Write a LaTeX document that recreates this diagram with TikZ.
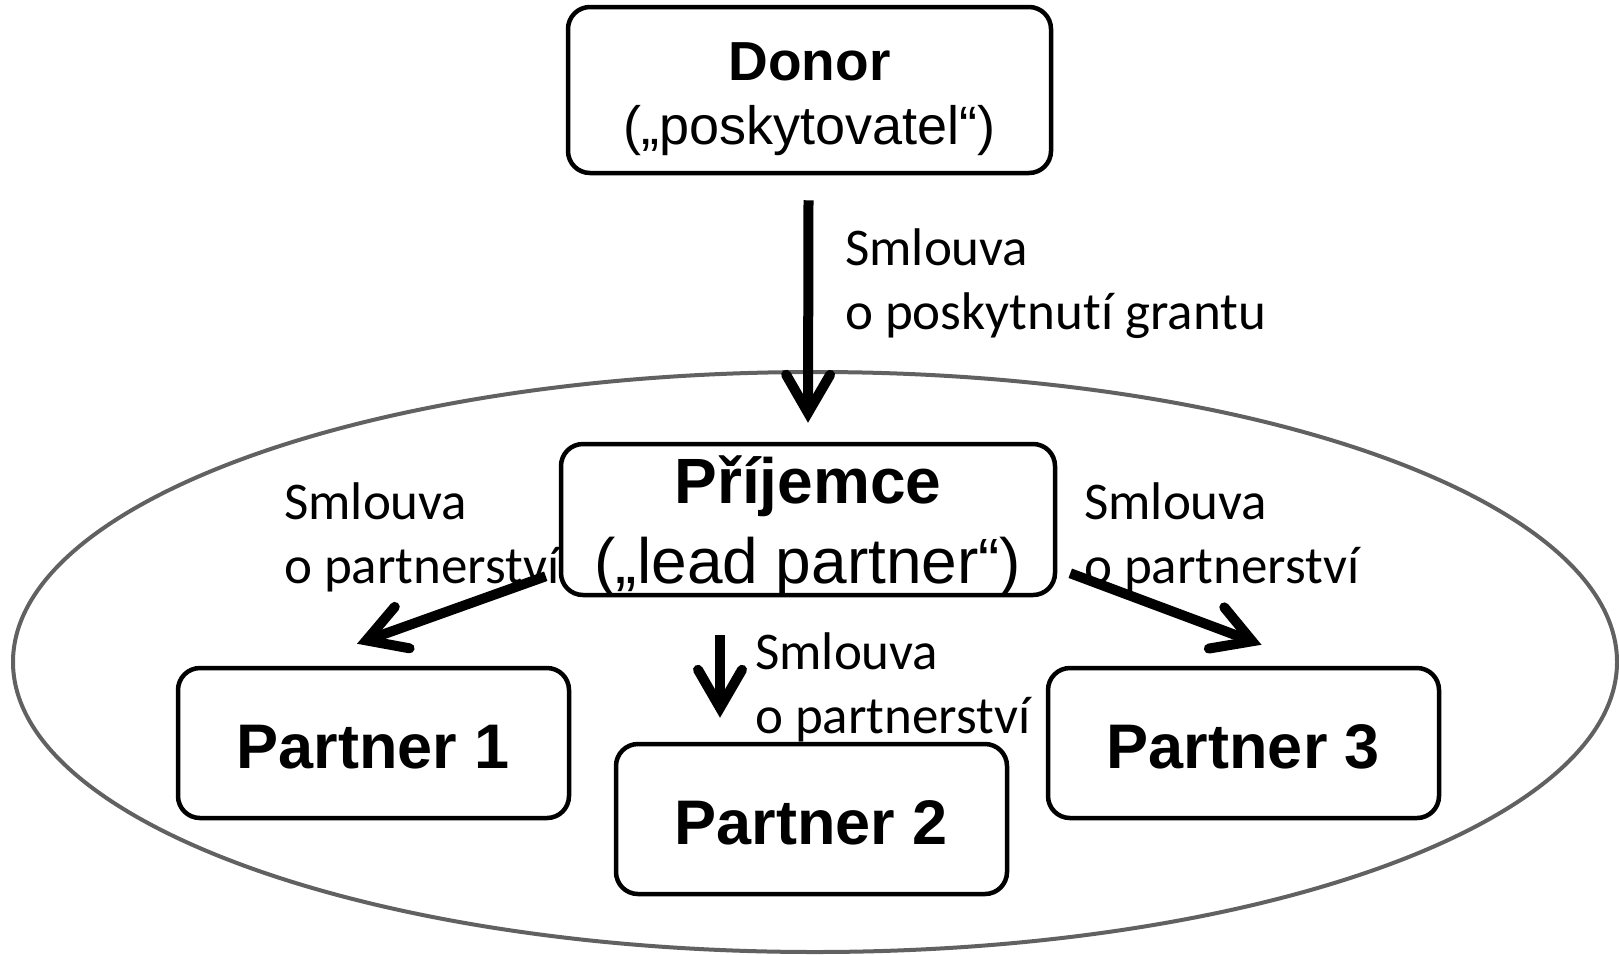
\documentclass[tikz,border=0pt]{standalone}
\usepackage{fontspec}
\setmainfont{Liberation Sans}
\newfontfamily\calibri[Ligatures={NoCommon,NoContextual},RawFeature={-liga;-clig;-calt}]{Carlito}
\usetikzlibrary{arrows.meta,calc}
\begin{document}
\begin{tikzpicture}[x=1pt,y=-1pt,
  box/.style={draw=black, line width=4.5pt, rounded corners=22pt, fill=white, inner sep=0pt},
  partnerbox/.style={box, minimum width=391pt, minimum height=150pt,
    text height=51pt, text depth=0pt,
    font=\fontsize{63}{76}\selectfont\bfseries},
  headbold/.style={anchor=base, inner sep=0pt, font=\bfseries},
  headplain/.style={anchor=base, inner sep=0pt},
  contract/.style={anchor=base west, inner sep=0pt,
    font=\calibri\fontsize{53}{64}\selectfont},
  arr/.style={line width=10pt,
    -{Straight Barb[length=38pt,width=44pt,line width=10pt,line cap=round,line join=miter]}},
  group/.style={draw=black!62, line width=4pt}
]
\useasboundingbox (0,0) rectangle (1619,954);

% the partnership as a whole
\draw[group] (815,662) ellipse [x radius=802, y radius=290];

% contract labels
\node[contract] (lgrant) at (845,265)
  {\vtop{\hbox{Smlouva}\hbox{o poskytnutí grantu}}};
\node[contract] (lleft) at (284,519)
  {\vtop{\hbox{Smlouva}\hbox{o partnerství}}};
\node[contract] (lright) at (1084,519)
  {\vtop{\hbox{Smlouva}\hbox{o partnerství}}};
\node[contract] (lmid) at (755,669)
  {\vtop{\hbox{Smlouva}\hbox{o partnerství}}};

% parties
\node[box, minimum width=483pt, minimum height=166pt] (donor) at (809.5,90) {};
\node[headbold, font=\fontsize{55}{64}\selectfont\bfseries] (donorname) at (809.5,80) {Donor};
\node[headplain, font=\fontsize{54}{64}\selectfont] (donorrole) at (809.5,144) {(„poskytovatel“)};

\node[box, minimum width=494pt, minimum height=151pt] (recv) at (808,519.5) {};
\node[headbold, font=\fontsize{64}{76}\selectfont\bfseries] (recvname) at (808,503) {Příjemce};
\node[headplain, font=\fontsize{64}{76}\selectfont] (recvrole) at (808,583) {(„lead partner“)};

\node[partnerbox] (p1) at (373.5,743) {Partner 1};
\node[partnerbox] (p2) at (811.5,819) {Partner 2};
\node[partnerbox] (p3) at (1243.5,743) {Partner 3};

% contracts
\draw[arr] ($(donor.south)+(-1,25)$) -- ($(recv.north)+(0,-19)$);
\draw[arr] ($(recv.south west)+(-13,-21)$) -- ($(p1.north)+(-16.5,-22)$);
\draw[arr] ($(recv.south east)+(13,-24)$) -- ($(p3.north)+(18,-21)$);
\draw[arr] ($(recv.south)+(-88,38)$) -- ($(p2.north)+(-91.5,-24)$);
\end{tikzpicture}
\end{document}
